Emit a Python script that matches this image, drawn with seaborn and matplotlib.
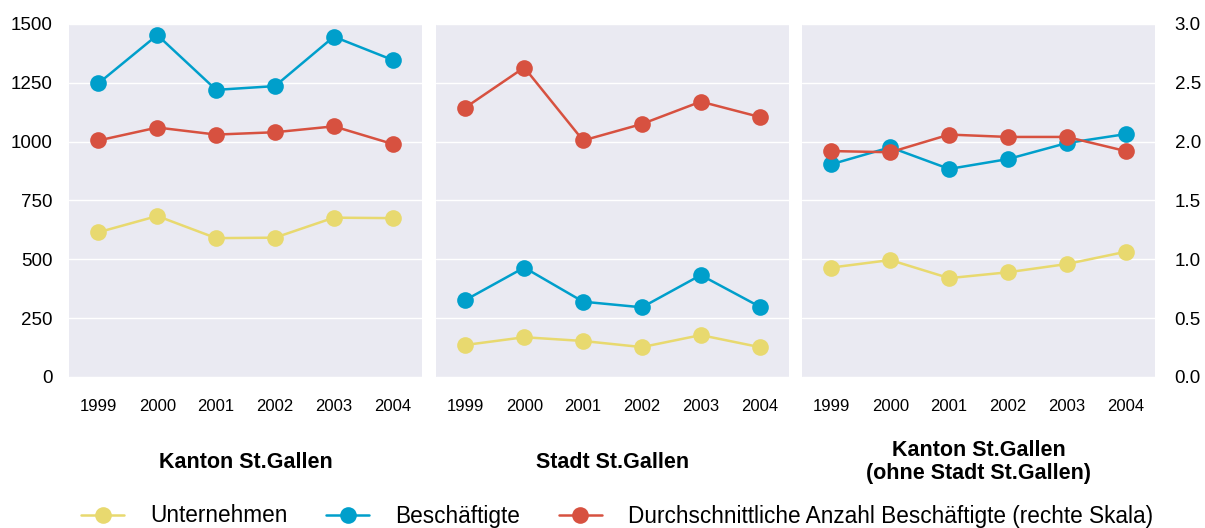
import matplotlib.pyplot as plt
import matplotlib.lines as mlines
import pandas as pd
import seaborn as sns

# Values
years = [1999, 2000, 2001, 2002, 2003, 2004]
regions = ["Kanton St.Gallen", "Stadt St.Gallen", "Kanton St.Gallen\n(ohne Stadt St.Gallen)"]

unternehmen_kanton = [615, 684, 590, 592, 677, 675]
unternehmen_stadt = [136, 169, 153, 127, 178, 127]
unternehmen_ohne = [465, 497, 420, 445, 480, 532]

beschaeftigte_kanton = [1248, 1453, 1220, 1236, 1446, 1347]
beschaeftigte_stadt = [327, 465, 320, 296, 433, 299]
beschaeftigte_ohne = [904, 976, 884, 926, 994, 1032]

durchschnitt_kanton = [2.01, 2.12, 2.06, 2.08, 2.13, 1.98]
durchschnitt_stadt = [2.29, 2.63, 2.01, 2.15, 2.34, 2.21]
durchschnitt_ohne = [1.92, 1.91, 2.06, 2.04, 2.04, 1.92]

series_names = ["Unternehmen", "Beschäftigte",
                "Durchschnittliche Anzahl Beschäftigte (rechte Skala)"]
colors = ["#e8d96f", "#009fcb", "#d75140"]

left_ticks = [0, 250, 500, 750, 1000, 1250, 1500]
right_ticks = [0.0, 0.5, 1.0, 1.5, 2.0, 2.5, 3.0]

# Build a long table for seaborn
rows = []
data_sets = [
    (unternehmen_kanton, beschaeftigte_kanton, durchschnitt_kanton),
    (unternehmen_stadt, beschaeftigte_stadt, durchschnitt_stadt),
    (unternehmen_ohne, beschaeftigte_ohne, durchschnitt_ohne),
]
for region, (u, b, d) in zip(regions, data_sets):
    for i, year in enumerate(years):
        rows.append({"Region": region, "Jahr": str(year), "Serie": series_names[0], "Wert": u[i]})
        rows.append({"Region": region, "Jahr": str(year), "Serie": series_names[1], "Wert": b[i]})
        rows.append({"Region": region, "Jahr": str(year), "Serie": series_names[2], "Wert": d[i]})
df = pd.DataFrame(rows)

sns.set_theme(style="darkgrid", rc={"axes.facecolor": "#eaeaf2", "grid.color": "white",
                                    "text.color": "black", "xtick.color": "black",
                                    "ytick.color": "black"})
plt.rcParams["font.family"] = ["Liberation Sans", "DejaVu Sans"]

fig = plt.figure(figsize=(12.05, 5.28), dpi=100)
lefts = [0.0573, 0.3618, 0.6656]
width = 0.293
bottom = 0.286
height = 0.6686

for k, region in enumerate(regions):
    ax = fig.add_axes([lefts[k], bottom, width, height])
    sub = df[df["Region"] == region]
    left_data = sub[sub["Serie"] != series_names[2]]
    right_data = sub[sub["Serie"] == series_names[2]]

    sns.lineplot(data=left_data, x="Jahr", y="Wert", hue="Serie",
                 hue_order=series_names[:2], palette=colors[:2],
                 marker="o", markersize=12, markeredgewidth=0,
                 linewidth=1.8, legend=False, ax=ax, sort=False)
    ax.set_ylim(0, 1500)
    ax.set_yticks(left_ticks)
    ax.set_xlim(-0.5, 5.5)
    ax.set_xlabel("")
    ax.set_ylabel("")
    ax.tick_params(axis="x", length=0, labelsize=12, pad=16)
    ax.tick_params(axis="y", length=0, labelsize=13.5, pad=12)
    ax.grid(axis="x", visible=False)
    if k > 0:
        ax.set_yticklabels([])

    # panel caption below the year labels
    fig.text(lefts[k] + width / 2, 1 - 462 / 528, region, ha="center", va="center",
             fontsize=15.5, fontweight="bold", linespacing=1.15)

    ax2 = ax.twinx()
    sns.lineplot(data=right_data, x="Jahr", y="Wert", color=colors[2],
                 marker="o", markersize=12, markeredgewidth=0,
                 linewidth=1.8, legend=False, ax=ax2, sort=False)
    ax2.set_ylim(0, 3)
    ax2.set_yticks(right_ticks)
    ax2.grid(False)
    ax2.set_ylabel("")
    ax2.tick_params(axis="y", length=0, labelsize=13.5, pad=14)
    if k < 2:
        ax2.set_yticklabels([])
    else:
        ax2.set_yticklabels([f"{t:.1f}" for t in right_ticks])
    for spine in list(ax.spines.values()) + list(ax2.spines.values()):
        spine.set_visible(False)

handles = [mlines.Line2D([], [], color=c, marker="o", markersize=12,
                         markeredgewidth=0, linewidth=1.8) for c in colors]
fig.legend(handles, series_names, loc="center left", bbox_to_anchor=(0.06, 1 - 516 / 528),
           ncol=3, frameon=False, fontsize=16.3, handlelength=1.9,
           handletextpad=1.15, columnspacing=1.7, borderaxespad=0)

fig.savefig("out.png", dpi=100, facecolor="white")
